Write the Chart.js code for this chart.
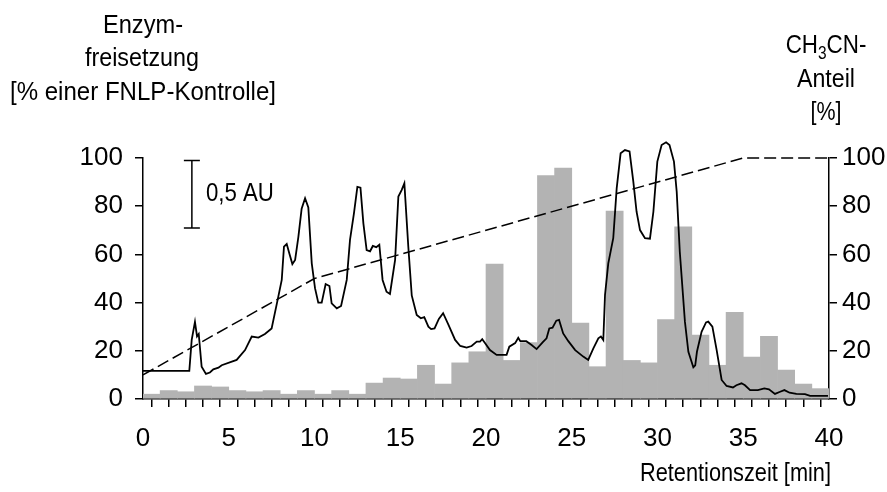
<!DOCTYPE html>
<html>
<head>
<meta charset="utf-8">
<script src="https://cdn.jsdelivr.net/npm/chart.js@4/dist/chart.umd.min.js"></script>
<style>
  html, body { margin: 0; padding: 0; background: #fff; }
  canvas { display: block; }
</style>
</head>
<body>
<canvas id="chart" width="887" height="492"></canvas>
<script>
// Enzymfreisetzung je 1-min-Fraktion (0-1, 1-2, ... 39-40 min)
const fraktionen = [0,1,2,3,4,5,6,7,8,9,10,11,12,13,14,15,16,17,18,19,20,21,22,23,24,25,26,27,28,29,30,31,32,33,34,35,36,37,38,39];
const enzymWerte = [2, 3.5, 3, 5.4, 5, 3.5, 3, 3.5, 2, 3.5, 2, 3.5, 2, 6.6, 8.7, 8.3, 14, 6.2, 15, 19.6,
                    56, 16, 23.4, 92.7, 95.8, 31.5, 13.4, 78, 16, 15, 33, 71.4, 26.5, 14, 36, 17.4, 26, 12, 6.2, 4.3];

// Absorptionsspur (in Einheiten der linken Achse)
const spurZeit = [0, 2.7, 2.84, 3.03, 3.15, 3.25, 3.42, 3.67, 3.9, 4.1, 4.4, 4.59, 5.46, 5.95, 6.34, 6.73, 7.11, 7.5, 7.89, 8.09,
  8.22, 8.38, 8.55, 8.71, 8.87, 9.06, 9.25, 9.45, 9.64, 9.84, 10.03, 10.22, 10.42, 10.65, 10.87, 11.0, 11.3, 11.55, 11.88, 12.07,
  12.3, 12.5, 12.68, 12.85, 13.04, 13.24, 13.4, 13.6, 13.78, 13.97, 14.2, 14.4, 14.7, 14.89, 15.08, 15.24, 15.47, 15.67, 15.96, 16.2,
  16.4, 16.64, 16.8, 17.0, 17.25, 17.5, 17.8, 18.2, 18.5, 18.87, 19.16, 19.46, 19.65, 19.78, 19.94, 20.23, 20.62, 21.2, 21.36, 21.7,
  21.88, 22.0, 22.35, 22.66, 22.95, 23.3, 23.53, 23.69, 23.88, 24.1, 24.26, 24.5, 24.8, 25.2, 25.67, 25.96, 26.26, 26.55, 26.7, 26.84,
  26.94, 27.13, 27.42, 27.62, 27.85, 28.1, 28.37, 28.59, 28.78, 28.98, 29.27, 29.56, 29.76, 29.99, 30.24, 30.5, 30.7, 30.96, 31.12, 31.3,
  31.6, 31.8, 32.09, 32.2, 32.3, 32.57, 32.83, 32.96, 33.2, 33.45, 33.74, 34.03, 34.4, 34.6, 34.9, 35.1, 35.4, 35.85, 36.23, 36.5,
  36.85, 37.15, 37.4, 37.7, 38.1, 38.6, 38.9, 39.94];
const spurWerte = [11.7, 11.7, 24.5, 32, 26, 27, 13.4, 10.4, 11, 12.3, 13, 14, 16.2, 20.3, 25.9, 25.5, 27, 29.3, 42.5, 49.4,
  63.2, 64.3, 60, 56, 57.7, 67.3, 79, 83.3, 79.5, 56.3, 46, 40, 40, 47.7, 46.9, 39.7, 37.6, 38.6, 49.4, 66,
  77, 88, 87.7, 72.9, 61.8, 61.3, 63.5, 63, 64, 49.4, 44.5, 43.6, 57.7, 84, 86.7, 89.5, 63.2, 43, 34.9, 33.5,
  34, 30, 29, 29.3, 33.2, 35.6, 31, 24.5, 22, 21.3, 22, 23.8, 23.8, 24.8, 23.2, 20.3, 18.3, 18.3, 21.7, 23.2,
  25.4, 24, 24, 22.4, 20.7, 23.5, 25.2, 29.3, 29.6, 32.5, 32.8, 27.2, 24, 20.3, 17.6, 16.2, 21, 25.2, 25.9, 24.5,
  43.2, 56.3, 66.7, 87.4, 102, 103.3, 102.7, 90.2, 77.7, 70.1, 66.7, 66.5, 77.7, 98.5, 105.4, 106.5, 105.4, 98.5, 86, 61.1,
  32, 19.6, 13.2, 14, 19.6, 27.9, 31.8, 32.1, 30, 20.3, 7.9, 5.4, 4.8, 5.7, 6.5, 5.7, 3.7, 3.7, 4.4, 4,
  2.1, 3, 3.7, 2.6, 2.1, 2, 1.3, 1.3];

// CH3CN-Gradient
const gradientZeit = [0, 10, 35, 40];
const gradientWerte = [10, 50, 100, 100];

const schrift = "'Liberation Sans Narrow', 'Liberation Sans', Arial, sans-serif";
Chart.defaults.font.family = schrift;
Chart.defaults.font.size = 26;
Chart.defaults.color = '#000';

const balken = fraktionen.map((t, i) => ({ x: t + 0.5, y: enzymWerte[i] }));
const spur = spurZeit.map((t, i) => ({ x: t, y: spurWerte[i] }));
const gradient = gradientZeit.map((t, i) => ({ x: t, y: gradientWerte[i] }));

// Beschriftungen und Maßstab
const beschriftung = {
  id: 'beschriftung',
  afterDraw(chart) {
    const ctx = chart.ctx;
    const area = chart.chartArea;
    const xs = chart.scales.x, ys = chart.scales.y;
    ctx.save();
    ctx.fillStyle = '#000';
    ctx.strokeStyle = '#000';
    ctx.font = '26px ' + schrift;
    ctx.textBaseline = 'alphabetic';

    // linke Achsenbeschriftung (schmal gesetzt wie im Original)
    ctx.textAlign = 'center';
    ctx.fillText('Enzym-', area.left, 33, 80);
    ctx.fillText('freisetzung', area.left - 1, 66, 114);
    ctx.fillText('[% einer FNLP-Kontrolle]', area.left, 100, 266);

    // rechte Achsenbeschriftung mit Index
    const cx = area.right - 3;
    const t1 = 'CH', t2 = '3', t3 = 'CN-';
    const k = 0.86;
    const w1 = ctx.measureText(t1).width * k;
    const w3 = ctx.measureText(t3).width * k;
    ctx.font = '18px ' + schrift;
    const w2 = ctx.measureText(t2).width * k;
    const sx = cx - (w1 + w2 + w3) / 2;
    ctx.textAlign = 'left';
    ctx.font = '26px ' + schrift;
    ctx.fillText(t1, sx, 53, w1);
    ctx.font = '18px ' + schrift;
    ctx.fillText(t2, sx + w1, 59, w2);
    ctx.font = '26px ' + schrift;
    ctx.fillText(t3, sx + w1 + w2, 53, w3);
    ctx.textAlign = 'center';
    ctx.fillText('Anteil', cx, 87, 58);
    ctx.fillText('[%]', cx, 120, 31);

    // x-Achsenbeschriftung
    ctx.textAlign = 'right';
    ctx.fillText('Retentionszeit [min]', area.right + 2, 481, 191);

    // Maßstab 0,5 AU
    const bx = xs.getPixelForValue(2.85);
    const by1 = ys.getPixelForValue(99);
    const by2 = ys.getPixelForValue(71);
    ctx.lineWidth = 1.5;
    ctx.beginPath();
    ctx.moveTo(bx, by1); ctx.lineTo(bx, by2);
    ctx.moveTo(bx - 8, by1); ctx.lineTo(bx + 8, by1);
    ctx.moveTo(bx - 8, by2); ctx.lineTo(bx + 8, by2);
    ctx.stroke();
    ctx.textAlign = 'left';
    ctx.textBaseline = 'middle';
    ctx.fillText('0,5 AU', bx + 14, (by1 + by2) / 2, 68);
    ctx.restore();
  }
};

new Chart(document.getElementById('chart'), {
  type: 'bar',
  data: {
    datasets: [
      {
        type: 'line',
        data: spur,
        borderColor: '#000',
        borderWidth: 1.8,
        pointRadius: 0,
        tension: 0,
        clip: false,
        yAxisID: 'y',
        order: 1
      },
      {
        type: 'line',
        data: gradient,
        borderColor: '#000',
        borderWidth: 1.5,
        borderDash: [12, 5],
        pointRadius: 0,
        tension: 0,
        clip: false,
        yAxisID: 'y2',
        order: 2
      },
      {
        type: 'bar',
        data: balken,
        backgroundColor: '#b3b3b3',
        borderWidth: 0,
        barPercentage: 1,
        categoryPercentage: 1,
        yAxisID: 'y',
        order: 3
      }
    ]
  },
  options: {
    responsive: false,
    animation: false,
    events: [],
    layout: { padding: { top: 158, left: 0, right: 0, bottom: 0 } },
    plugins: { legend: { display: false }, tooltip: { enabled: false } },
    scales: {
      x: {
        type: 'linear',
        min: 0,
        max: 40,
        offset: false,
        afterFit: (s) => { s.height = 93; },
        ticks: {
          stepSize: 1,
          autoSkip: false,
          maxRotation: 0,
          padding: 16,
          callback: (v) => (v % 5 === 0 ? v : '')
        },
        grid: { drawOnChartArea: false, tickLength: 8, color: '#000', lineWidth: 1.5 },
        border: { color: '#000', width: 1.5 }
      },
      y: {
        position: 'left',
        min: 0,
        max: 100,
        afterFit: (s) => { s.width = 143; },
        ticks: {
          stepSize: 10,
          padding: 12,
          callback: (v) => (v % 20 === 0 ? v : '')
        },
        grid: { drawOnChartArea: false, tickLength: 8, color: '#000', lineWidth: 1.5 },
        border: { color: '#000', width: 1.5 }
      },
      y2: {
        position: 'right',
        min: 0,
        max: 100,
        afterFit: (s) => { s.width = 58; },
        ticks: {
          stepSize: 10,
          padding: 5,
          callback: (v) => (v % 20 === 0 ? v : '')
        },
        grid: { drawOnChartArea: false, tickLength: 8, color: '#000', lineWidth: 1.5 },
        border: { color: '#000', width: 1.5 }
      }
    }
  },
  plugins: [beschriftung]
});
</script>
</body>
</html>
